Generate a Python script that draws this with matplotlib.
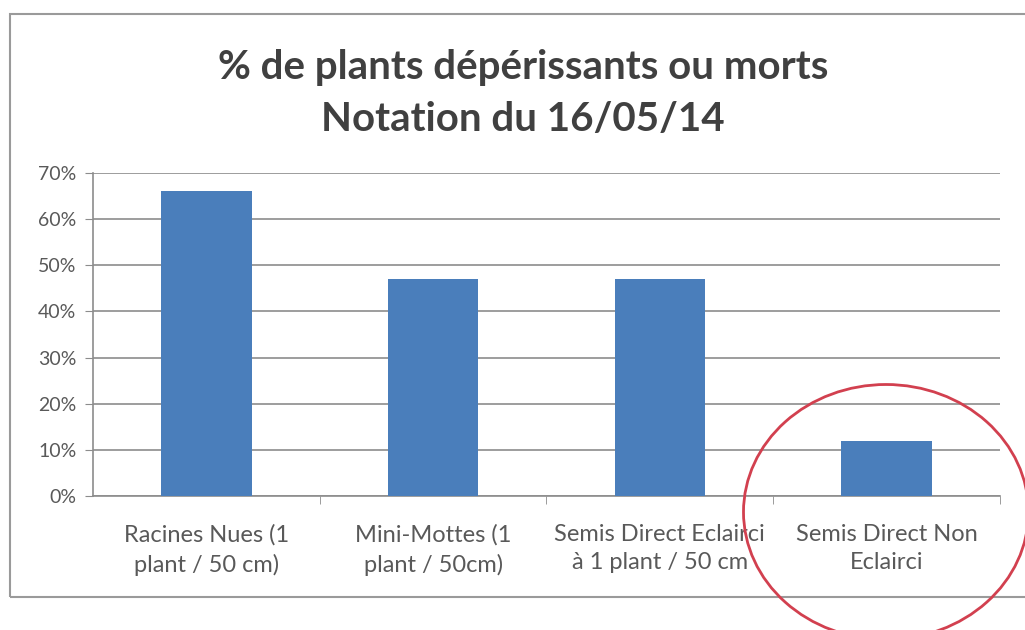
import matplotlib.pyplot as plt
from matplotlib.patches import Ellipse, Rectangle
from matplotlib.ticker import PercentFormatter

# données
categories = ["Racines Nues (1\nplant / 50 cm)", "Mini-Mottes (1\nplant / 50cm)",
              "Semis Direct Eclairci\nà 1 plant / 50 cm", "Semis Direct Non\nEclairci"]
valeurs = [66, 47, 47, 12]

plt.rcParams['font.family'] = ['Lato', 'DejaVu Sans']

fig = plt.figure(figsize=(10.25, 6.3), dpi=100)
ax = fig.add_axes([0.0907, 0.2127, 0.8849, 0.5127])

x = list(range(len(categories)))
ax.bar(x, valeurs, width=0.4, color='#4a7ebb', zorder=3)

ax.set_ylim(0, 70)
ax.set_xlim(-0.5, 3.5)
ax.set_yticks(range(0, 71, 10))
ax.yaxis.set_major_formatter(PercentFormatter(decimals=0))
ax.grid(axis='y', color='#8c8c8c', linewidth=1.2, zorder=0)

ax.set_xticks(x)
ax.set_xticklabels(categories, fontsize=17, color='#595959', linespacing=1.45)
ax.set_xticks([0.5, 1.5, 2.5, 3.5], minor=True)
ax.tick_params(axis='x', which='major', length=0, pad=20)
ax.tick_params(axis='x', which='minor', length=6, color='#8c8c8c')
ax.tick_params(axis='y', labelsize=14, labelcolor='#595959', length=6, color='#8c8c8c', pad=6)

for s in ['top', 'right']:
    ax.spines[s].set_visible(False)
ax.spines['left'].set_color('#8c8c8c')
ax.spines['bottom'].set_color('#8c8c8c')
ax.spines['left'].set_linewidth(1.2)
ax.spines['bottom'].set_linewidth(1.2)

# titre
fig.text(0.5105, 0.852, "% de plants dépérissants ou morts\nNotation du 16/05/14",
         ha='center', va='center', fontsize=29, fontweight='bold', color='#404040',
         linespacing=1.5)

# cadre du graphique
fig.patches.append(Rectangle((10 / 1025, 1 - 597 / 630), 1.1, (597 - 14) / 630,
                             transform=fig.transFigure, fill=False,
                             edgecolor='#9a9a9a', linewidth=1.5))

# cercle rouge
fig.patches.append(Ellipse((886 / 1025, 1 - 512 / 630), 285 / 1025, 255 / 630,
                           transform=fig.transFigure, fill=False,
                           edgecolor='#d2404f', linewidth=2))

fig.savefig("out.png", dpi=100)
